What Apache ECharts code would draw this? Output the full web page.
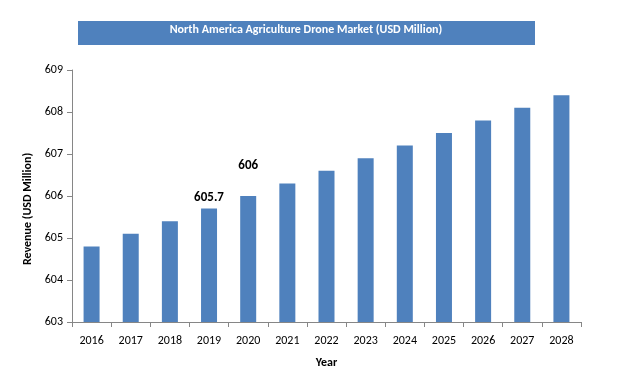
<!DOCTYPE html>
<html><head><meta charset="utf-8">
<script src="https://cdn.jsdelivr.net/npm/echarts@6/dist/echarts.min.js"></script>
<style>html,body{margin:0;padding:0;background:#fff}#c{width:626px;height:390px}</style>
</head><body><div id="c"></div>
<script>
const years = ['2016','2017','2018','2019','2020','2021','2022','2023','2024','2025','2026','2027','2028'];
const revenue = [604.8, 605.1, 605.4, 605.7, 606.0, 606.3, 606.6, 606.9, 607.2, 607.5, 607.8, 608.1, 608.4];
const labelText = {'2019':'605.7','2020':'606'};
const labelOffsets = {'2019':[0,1],'2020':[0,-19]};
const chart = echarts.init(document.getElementById('c'), null, {renderer:'canvas'});
const font = 'Calibri, Carlito, Lato, "Liberation Sans", Arial, sans-serif';
const data = revenue.map((v,i)=>{
  const y = years[i];
  const d = {value:v};
  if (labelText[y]) {
    d.label = {show:true, position:'top', formatter:labelText[y], offset:labelOffsets[y], fontWeight:'bold', fontSize:13, color:'#000', fontFamily:font};
  }
  return d;
});
chart.setOption({
  animation:false,
  graphic:[
    {type:'rect', shape:{x:78,y:21,width:457,height:24}, style:{fill:'#4F81BD'}},
    {type:'text', x:306, y:30, style:{text:'North America Agriculture Drone Market (USD Million)', fill:'#fff', font:'bold 12px '+font, textAlign:'center', textVerticalAlign:'middle'}}
  ],
  grid:{left:72, right:45, top:70, bottom:68},
  xAxis:{
    type:'category', data:years,
    name:'Year', nameLocation:'middle', nameGap:35,
    nameTextStyle:{fontWeight:'bold', fontSize:12, color:'#000', fontFamily:font},
    axisLine:{lineStyle:{color:'#868686'}},
    axisTick:{show:true, alignWithLabel:false, length:5, lineStyle:{color:'#868686'}},
    axisLabel:{color:'#000', fontSize:12, margin:13, fontFamily:font}
  },
  yAxis:{
    type:'value', min:603, max:609, interval:1,
    name:'Revenue (USD Million)', nameLocation:'middle', nameGap:35, nameRotate:90,
    nameTextStyle:{fontWeight:'bold', fontSize:12, color:'#000', fontFamily:font, padding:[0,0,0,-26]},
    axisLine:{show:true, lineStyle:{color:'#868686'}},
    axisTick:{show:true, length:5, lineStyle:{color:'#868686'}},
    splitLine:{show:false},
    axisLabel:{color:'#000', fontSize:12, margin:9, fontFamily:font}
  },
  series:[{type:'bar', data:data, barWidth:16, itemStyle:{color:'#4F81BD'}}]
});
</script></body></html>
